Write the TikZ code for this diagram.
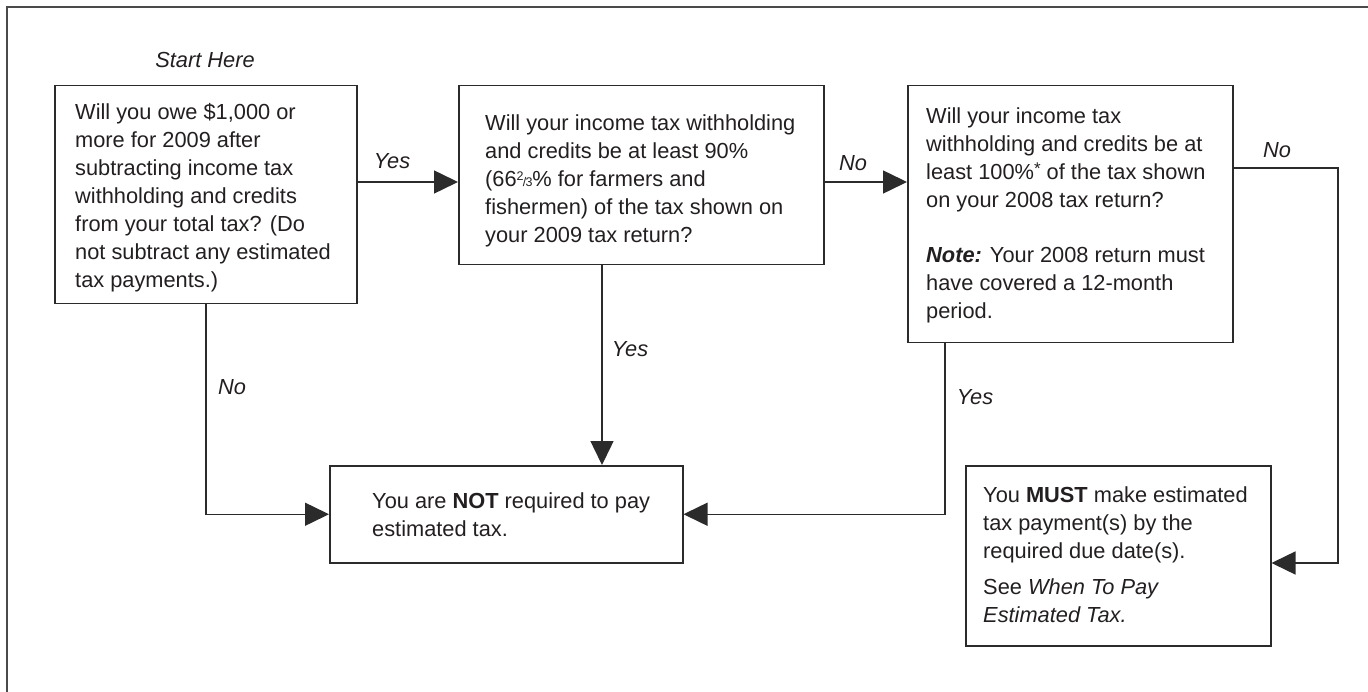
\documentclass[tikz,border=0pt]{standalone}
\usepackage{fontspec}
\setmainfont{Liberation Sans}
\usetikzlibrary{arrows.meta}
\definecolor{linec}{HTML}{2B2B2B}
\definecolor{textc}{HTML}{231F20}
\definecolor{framec}{HTML}{4A4A4A}
\newcommand{\twothirds}{{\fontsize{12.5}{12.5}\selectfont\raisebox{5.5pt}{2}\kern-0.8pt/\kern-0.8pt3}}
\newcommand{\astsup}{\raisebox{5pt}{\fontsize{17}{17}\selectfont *}}
\begin{document}
\begin{tikzpicture}[x=1pt,y=-1pt,
  box/.style={draw=linec, line width=1.5pt, inner sep=0pt, anchor=north west},
  txt/.style={anchor=north west, inner sep=0pt, align=left, text=textc, font=\fontsize{21.8}{28}\selectfont},
  lbl/.style={inner sep=0pt, text=textc, font=\fontsize{21.8}{28}\selectfont\itshape},
  conn/.style={draw=linec, line width=1.5pt},
  arr/.style={conn, -{Triangle[length=24pt,width=23pt]}}]
\useasboundingbox (0,0) rectangle (1368,692);
% outer frame (only top and left edges visible)
\draw[framec, line width=1.8pt] (7,692) -- (7,7) -- (1368,7);

% boxes
\node[box, minimum width=302pt, minimum height=218pt] (b1) at (54,85) {};
\node[box, minimum width=365pt, minimum height=179pt] (b2) at (458,85) {};
\node[box, minimum width=325pt, minimum height=257pt] (b3) at (907,85) {};
\node[box, minimum width=353pt, minimum height=97pt] (b4) at (329,465) {};
\node[box, minimum width=305pt, minimum height=180pt] (b5) at (965,465) {};

% texts
\node[txt] (t1) at (75,103.3) {Will you owe \$1,000 or\\more for 2009 after\\subtracting income tax\\withholding and credits\\from your total tax? (Do\\not subtract any estimated\\tax payments.)};
\node[txt] (t2) at (485,114.4) {Will your income tax withholding\\and credits be at least 90\%\\(66\twothirds\% for farmers and\\fishermen) of the tax shown on\\your 2009 tax return?};
\node[txt] (t3) at (926,107.4) {Will your income tax\\withholding and credits be at\\least 100\%\astsup\ of the tax shown\\on your 2008 tax return?\\[27pt]\textbf{\textit{Note:}} Your 2008 return must\\have covered a 12-month\\period.};
\node[txt] (t4) at (372,492.4) {You are \textbf{NOT} required to pay\\estimated tax.};
\node[txt] (t5) at (983,486.4) {You \textbf{MUST} make estimated\\tax payment(s) by the\\required due date(s).\\[8pt]See \textit{When To Pay}\\\textit{Estimated Tax.}};

% labels
\node[lbl] (start) at (205,60) {Start Here};
\node[lbl] (l1) at (392,161) {Yes};
\node[lbl] (l2) at (853,163) {No};
\node[lbl] (l3) at (1277,150) {No};
\node[lbl] (l4) at (232,387) {No};
\node[lbl] (l5) at (630,349) {Yes};
\node[lbl] (l6) at (975,397) {Yes};

% connectors
\coordinate (y182) at (0,182);
\coordinate (r1) at (1338,168);
\draw[arr] (b1.east |- y182) -- (b2.west |- y182);
\draw[arr] (b2.east |- y182) -- (b3.west |- y182);
\draw[arr] (b3.east |- r1) -- (r1) |- (b5.east |- 0,563);
\draw[arr] (b1.south) |- (b4.west);
\draw[arr] (b2.south -| 602,0) -- (b4.north -| 602,0);
\draw[arr] (b3.south -| 945,0) |- (b4.east);
\end{tikzpicture}
\end{document}
